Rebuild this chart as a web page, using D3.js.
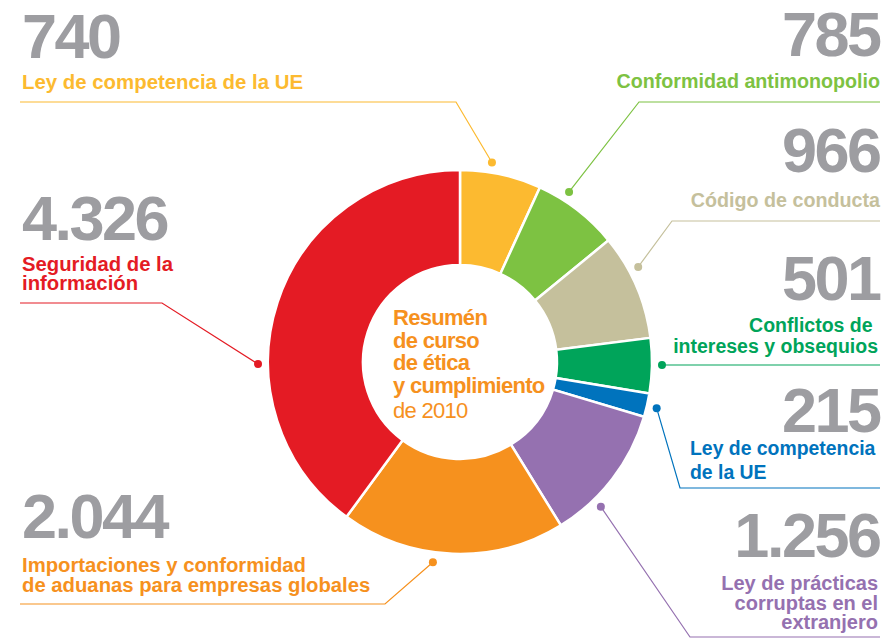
<!DOCTYPE html>
<html>
<head>
<meta charset="utf-8">
<script src="https://cdn.jsdelivr.net/npm/d3@7"></script>
<style>
  html, body { margin: 0; padding: 0; background: #fff; }
  svg { display: block; font-family: "Liberation Sans", Arial, Helvetica, sans-serif; }
  text { white-space: pre; }
</style>
</head>
<body>
<svg id="chart" width="886" height="640"></svg>
<script>
// Course counts, clockwise from 12 o'clock
const categories = [
  "Ley de competencia de la UE",
  "Conformidad antimonopolio",
  "Código de conducta",
  "Conflictos de intereses y obsequios",
  "Ley de competencia de la UE",
  "Ley de prácticas corruptas en el extranjero",
  "Importaciones y conformidad de aduanas para empresas globales",
  "Seguridad de la información"
];
const values = [740, 785, 966, 501, 215, 1256, 2044, 4326];
const colors = ["#FCBA30", "#7DC242", "#C5C09C", "#00A45A", "#0073BD", "#9571B0", "#F6911E", "#E41B24"];

// Label lines as they are broken on the page
const labelLines = [
  ["Ley de competencia de la UE"],
  ["Conformidad antimonopolio"],
  ["Código de conducta"],
  ["Conflictos de ", "intereses y obsequios"],
  ["Ley de competencia", "de la UE"],
  ["Ley de prácticas", "corruptas en el", "extranjero"],
  ["Importaciones y conformidad", "de aduanas para empresas globales"],
  ["Seguridad de la", "información"]
];

const centerTitle = ["Resumén", "de curso", "de ética", "y cumplimiento"];
const centerSub = "de 2010";

// Placement of each annotation block
const layout = [
  { anchor: "start", x: 22,  numY: 58,  textX: 22,  textY: [89],            fs: 20.4, dotFrac: 0.37, elbow: [456, 102], lineY: 102, lineEnd: 20 },
  { anchor: "end",   x: 880, numY: 56,  textX: 880, textY: [88],            fs: 19.7, dotFrac: 0.31, elbow: [639, 102], lineY: 102, lineEnd: 880 },
  { anchor: "end",   x: 880, numY: 172, textX: 880, textY: [207],           fs: 19.7, dotFrac: 0.35, elbow: [672, 221], lineY: 221, lineEnd: 880 },
  { anchor: "end",   x: 880, numY: 300, textX: 878, textY: [332, 353],      fs: 19.5, dotFrac: 0.48, elbow: null,       lineY: 365, lineEnd: 880 },
  { anchor: "end",   x: 880, numY: 432, textX: 690, textY: [455, 479], textAnchor: "start", fs: 19.4, dotFrac: 0.53, elbow: [680, 488], lineY: 488, lineEnd: 880 },
  { anchor: "end",   x: 880, numY: 557, textX: 878, textY: [590, 610, 629], fs: 20, dotFrac: 0.70, elbow: [690, 637], lineY: 637, lineEnd: 880 },
  { anchor: "start", x: 22,  numY: 538, textX: 22,  textY: [572, 592],      fs: 20.3, dotFrac: 0.58, elbow: [385, 604], lineY: 604, lineEnd: 20 },
  { anchor: "start", x: 22,  numY: 240, textX: 22,  textY: [271, 290],      fs: 20.3, dotFrac: 0.37, elbow: [162, 303], lineY: 303, lineEnd: 20 }
];

const fmt = d3.formatLocale({ decimal: ",", thousands: ".", grouping: [3], currency: ["", "€"] }).format(",d");

const svg = d3.select("#chart");
const cx = 460, cy = 362;
const outerR = 192, innerR = 97, dotR = 202;

const pie = d3.pie().sort(null).value(d => d);
const arcs = pie(values);
const arc = d3.arc().innerRadius(innerR).outerRadius(outerR);

const g = svg.append("g").attr("transform", `translate(${cx},${cy})`);
g.selectAll("path.slice")
  .data(arcs)
  .join("path")
  .attr("class", "slice")
  .attr("d", arc)
  .attr("fill", (d, i) => colors[i])
  .attr("stroke", "#fff")
  .attr("stroke-width", 2.5)
  .attr("stroke-linejoin", "miter");

// Leader lines and dots
arcs.forEach((a, i) => {
  const L = layout[i];
  const ang = a.startAngle + L.dotFrac * (a.endAngle - a.startAngle);
  const dx = cx + dotR * Math.sin(ang);
  const dy = cy - dotR * Math.cos(ang);
  const pts = [[dx, dy]];
  if (L.elbow) pts.push(L.elbow);
  pts.push([L.lineEnd, L.lineY]);
  if (!L.elbow) pts[0] = [dx, L.lineY];
  svg.append("path")
    .attr("d", d3.line()(pts))
    .attr("fill", "none")
    .attr("stroke", colors[i])
    .attr("stroke-width", 1.2);
  svg.append("circle")
    .attr("cx", pts[0][0]).attr("cy", pts[0][1])
    .attr("r", 4)
    .attr("fill", colors[i]);
});

// Big numbers and labels
values.forEach((v, i) => {
  const L = layout[i];
  svg.append("text")
    .attr("x", L.anchor === "end" ? L.x - 0.5 : L.x)
    .attr("y", L.numY)
    .attr("text-anchor", L.anchor)
    .attr("font-size", 63)
    .attr("font-weight", "bold")
    .attr("letter-spacing", -2.5)
    .attr("fill", "#9D9DA1")
    .text(fmt(v));
  const t = svg.append("text")
    .attr("text-anchor", L.textAnchor || L.anchor)
    .attr("font-size", L.fs)
    .attr("font-weight", "bold")
    .attr("fill", colors[i]);
  labelLines[i].forEach((line, j) => {
    t.append("tspan").attr("x", L.textX).attr("y", L.textY[j]).text(line);
  });
});

// Centre title
const ct = svg.append("text")
  .attr("fill", "#F6911E")
  .attr("font-size", 22)
  .attr("letter-spacing", -0.7);
centerTitle.forEach((line, j) => {
  ct.append("tspan").attr("x", 393).attr("y", 325 + j * 22.5)
    .attr("font-weight", "bold").text(line);
});
ct.append("tspan").attr("x", 393).attr("y", 418).attr("font-weight", "normal").text(centerSub);
</script>
</body>
</html>
